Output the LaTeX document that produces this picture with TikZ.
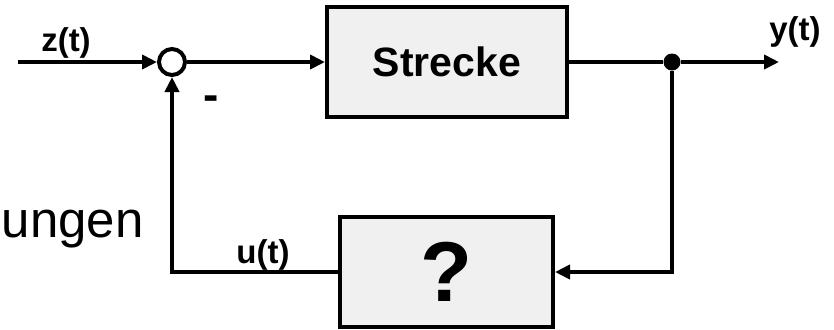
\documentclass[tikz,border=0pt]{standalone}
\usepackage{fontspec}
\setmainfont{Liberation Sans}
\usetikzlibrary{arrows.meta}
\definecolor{boxgray}{HTML}{F0F0F0}

\begin{document}
\begin{tikzpicture}[x=0.5pt,y=-0.5pt,
  blk/.style={rectangle, draw, fill=boxgray, line width=2pt, inner sep=0pt, minimum height=55pt},
  sumc/.style={circle, draw, fill=white, line width=2pt, inner sep=0pt, minimum size=13pt},
  dotc/.style={circle, fill, inner sep=0pt, minimum size=8.5pt},
  sig/.style={line width=2pt, -{Triangle[length=7.5pt,width=7pt]}},
  lbl/.style={font=\bfseries\fontsize{16.5}{19}\selectfont, anchor=base, inner sep=0pt}]
  \useasboundingbox (0,0) rectangle (834,329);

  % forward path
  \coordinate (in) at (18,62);
  \node[sumc] (s) at (172,62) {};
  \node[blk, minimum width=120pt, font=\bfseries\fontsize{20.5}{24}\selectfont] (p) at (447,62) {Strecke};
  \node[dotc] (d) at (672,62) {};
  \coordinate (out) at (779,62);

  % feedback block
  \node[blk, minimum width=106.5pt, font=\bfseries\fontsize{42.5}{48}\selectfont] (q) at (446.5,272) {?};

  \draw[sig] (in) -- (s);
  \draw[sig] (s) -- (p);
  \draw[line width=2pt] (p) -- (d);
  \draw[sig] (d) -- (out);
  \draw[sig] (d) |- (q);
  \draw[sig] (q) -| (s);

  % signal names
  \node[lbl] (zl) at (66,51) {z(t)};
  \node[lbl] (yl) at (795,40) {y(t)};
  \node[lbl] (ul) at (263,263) {u(t)};
  \node[font=\bfseries\fontsize{23}{26}\selectfont, anchor=base, inner sep=0pt] (minus) at (211.5,110) {-};
  \node[font=\fontsize{25.5}{30}\selectfont, anchor=base east, inner sep=0pt] (ung) at (144,237) {ungen};
\end{tikzpicture}
\end{document}
